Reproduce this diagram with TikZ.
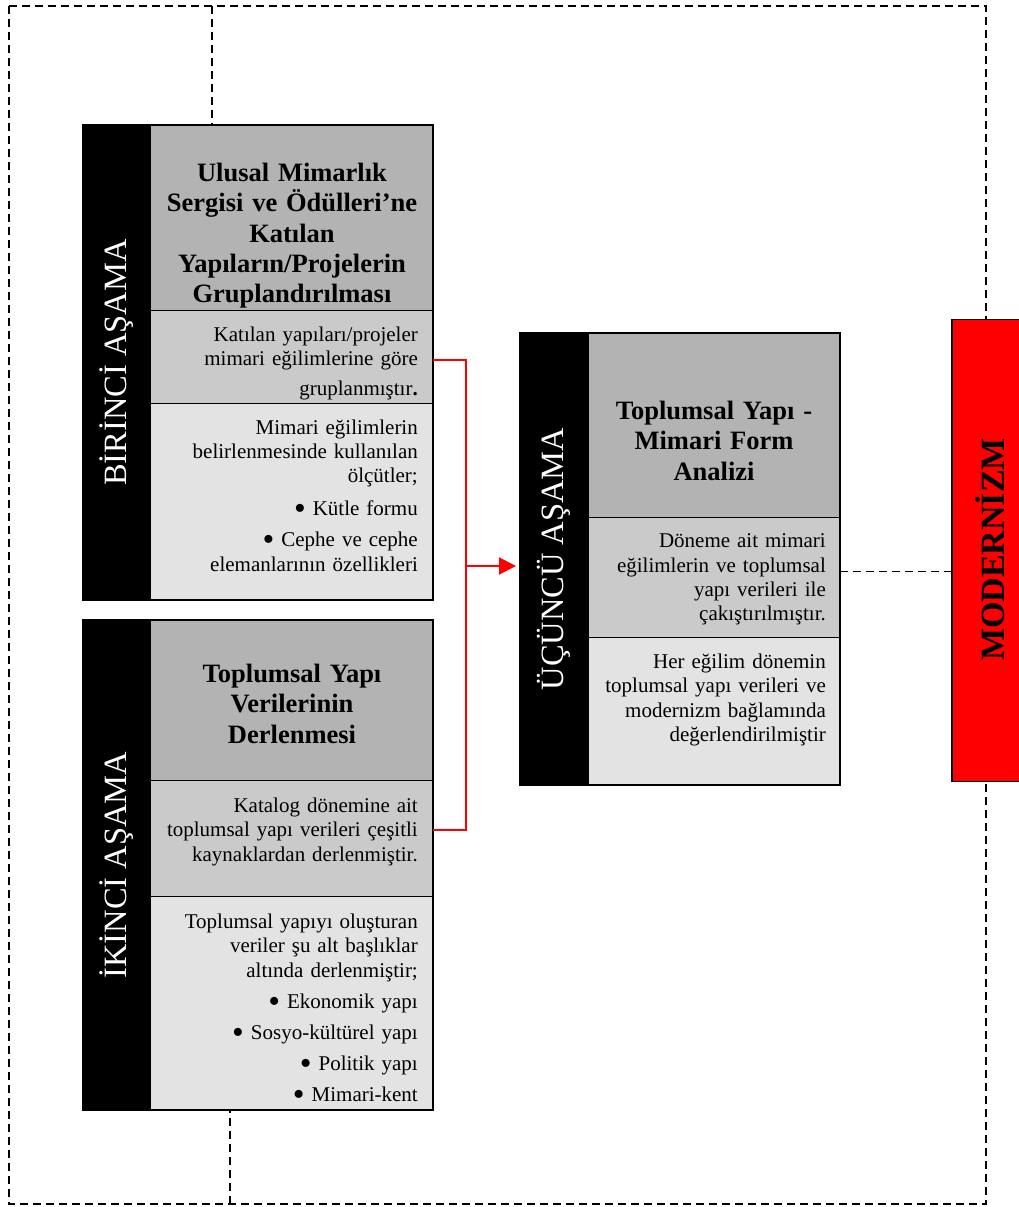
\documentclass[tikz,border=0pt]{standalone}
\usepackage{fontspec}
\setmainfont{Liberation Serif}
\usetikzlibrary{arrows.meta}
\definecolor{headgray}{HTML}{B3B3B3}
\definecolor{midgray}{HTML}{CACACA}
\definecolor{lowgray}{HTML}{E3E3E3}
\definecolor{modred}{HTML}{FF0000}
\newcommand{\blt}{\raisebox{-4pt}{\scalebox{1.6}{\textbullet}}\hspace{7pt}}
\tikzset{
  strip/.style={fill=black, draw=black, anchor=north west, inner sep=0pt, outer sep=0pt},
  sect/.style={draw=black, line width=1pt, anchor=north west, inner sep=0pt, outer sep=0pt},
  frame/.style={draw=black, line width=2pt},
  stagelabel/.style={text=white, rotate=90, inner sep=0pt, font=\fontsize{32.5}{36}\selectfont},
  titletext/.style={anchor=base, text width=280pt, align=center, inner sep=0pt,
    font=\bfseries\fontsize{26.5}{30.3}\selectfont},
  bodytext/.style={anchor=base east, text width=265pt, align=right, inner sep=0pt,
    font=\fontsize{21}{24.4}\selectfont},
  dashline/.style={black, line width=1.3pt, dash pattern=on 8pt off 5pt},
  redline/.style={modred, line width=2pt},
  modbox/.style={fill=modred, draw=black, line width=1.6pt, anchor=north west, inner sep=0pt},
  modtext/.style={rotate=90, inner sep=0pt, font=\bfseries\fontsize{34}{38}\selectfont}
}
\begin{document}
\begin{tikzpicture}[x=1pt,y=-1pt]
\useasboundingbox (0,0) rectangle (1018,1207);
% outer dashed frame and the two short joins
\draw[dashline] (9,6) rectangle (986,1204);
\coordinate (topjoin) at (212,6);
\coordinate (botjoin) at (230,1204);
% black stage strips: 67 = strip width
\foreach \n/\x/\y/\h in {1/83/125/475, 2/83/620/490, 3/520/333/452}{
  \node[strip, minimum width=67pt, minimum height=\h pt] (strip\n) at (\x,\y) {};
}
% box 1: 283 = 433-150
\node[sect, fill=headgray, minimum width=283pt, minimum height=185pt] (head1) at (150,125) {};
\node[sect, fill=midgray, minimum width=283pt, minimum height=93pt] (mid1) at (150,310) {};
\node[sect, fill=lowgray, minimum width=283pt, minimum height=197pt] (low1) at (150,403) {};
\draw[frame] (strip1.north west) rectangle (low1.south east);
% box 2
\node[sect, fill=headgray, minimum width=283pt, minimum height=160.5pt] (head2) at (150,620) {};
\node[sect, fill=midgray, minimum width=283pt, minimum height=115.5pt] (mid2) at (150,780.5) {};
\node[sect, fill=lowgray, minimum width=283pt, minimum height=214pt] (low2) at (150,896) {};
\draw[frame] (strip2.north west) rectangle (low2.south east);
% box 3: 252 = 840-588
\node[sect, fill=headgray, minimum width=252pt, minimum height=184.5pt] (head3) at (588,333) {};
\node[sect, fill=midgray, minimum width=252pt, minimum height=120pt] (mid3) at (588,517.5) {};
\node[sect, fill=lowgray, minimum width=252pt, minimum height=147.5pt] (low3) at (588,637.5) {};
\draw[frame] (strip3.north west) rectangle (low3.south east);
% dashed joins to the boxes
\draw[dashline] (topjoin) -- (topjoin |- head1.north);
\draw[dashline] (botjoin) -- (botjoin |- low2.south);
% stage labels
\node[stagelabel] (lab1) at (strip1) {BİRİNCİ AŞAMA};
\node[stagelabel] (lab2) at (strip2) {İKİNCİ AŞAMA};
\node[stagelabel] (lab3) at (strip3) {ÜÇÜNCÜ AŞAMA};
% titles
\node[titletext] (title1) at (292,181.5) {Ulusal Mimarlık\\Sergisi ve Ödülleri’ne\\Katılan\\Yapıların/Projelerin\\Gruplandırılması};
\node[titletext] (title2) at (292,682.5) {Toplumsal Yapı\\Verilerinin\\Derlenmesi};
\node[titletext, text width=245pt] (title3) at (714,419.5) {Toplumsal Yapı -\\Mimari Form\\Analizi};
% texts
\node[bodytext] (text1a) at (418,341) {Katılan yapıları/projeler\\mimari eğilimlerine göre\\[6pt]gruplanmıştır\textbf{.}};
\node[bodytext] (text1b) at (418,434) {Mimari eğilimlerin\\belirlenmesinde kullanılan\\ölçütler;\\[8pt]\blt Kütle formu\\[7pt]\blt Cephe ve cephe\\elemanlarının özellikleri};
\node[bodytext] (text2a) at (418,812.3) {Katalog dönemine ait\\toplumsal yapı verileri çeşitli\\kaynaklardan derlenmiştir.};
\node[bodytext] (text2b) at (418,928.3) {Toplumsal yapıyı oluşturan\\veriler şu alt başlıklar\\altında derlenmiştir;\\[7pt]\blt Ekonomik yapı\\[7pt]\blt Sosyo-kültürel yapı\\[6pt]\blt Politik yapı\\[7pt]\blt Mimari-kent};
\node[bodytext, text width=235pt] (text3a) at (826,547.7) {Döneme ait mimari\\eğilimlerin ve toplumsal\\yapı verileri ile\\çakıştırılmıştır.};
\node[bodytext, text width=235pt] (text3b) at (826,668.3) {Her eğilim dönemin\\toplumsal yapı verileri ve\\modernizm bağlamında\\değerlendirilmiştir};
% modernizm box
\node[modbox, minimum width=75pt, minimum height=462pt] (mod) at (951,318.5) {};
\node[modtext] (modlabel) at (990,549.5) {MODERNİZM};
% red connector: 466 = fork x
\coordinate (fork) at (466,566);
\draw[redline] ([yshift=-3pt]mid1.east) -| (fork) |- ([yshift=8pt]mid2.east);
\draw[redline, -{Triangle[length=17pt,width=17pt]}, shorten >=4pt] (fork) -- (fork -| strip3.west);
% dashed link to modernizm
\draw[dashline] ([yshift=6pt]mid3.east) -- ([yshift=6pt]mid3.east -| mod.west);
\end{tikzpicture}
\end{document}
